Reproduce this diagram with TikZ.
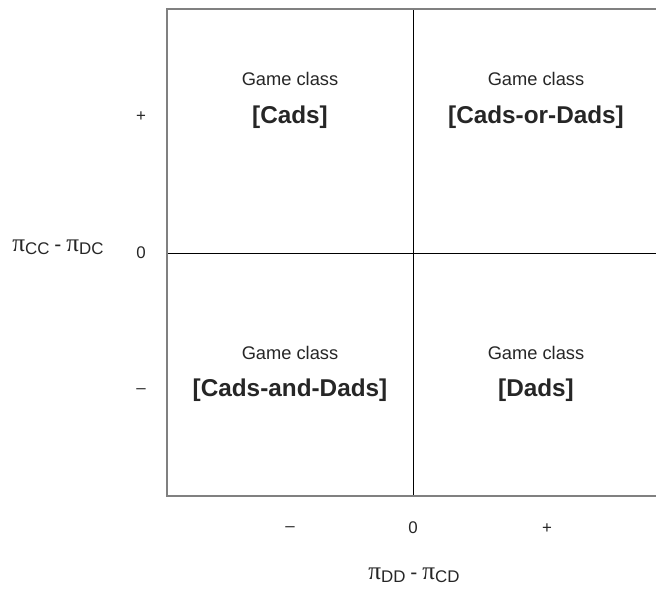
\documentclass[tikz,border=0pt]{standalone}
\usepackage{fontspec}
\setmainfont{Liberation Sans}
\newfontfamily\pifont{Liberation Serif}
\usetikzlibrary{positioning}
\newcommand{\payoff}[1]{{\pifont\fontsize{18}{18}\selectfont π}\raisebox{-0.45ex}{\fontsize{12}{12}\selectfont #1}}
\newcommand{\payminus}{\hspace{0.35em}{\fontsize{15}{15}\selectfont -}\hspace{0.35em}}

\begin{document}
\begin{tikzpicture}[x=0.025cm,y=-0.025cm,
  ticklab/.style={font=\fontsize{12}{12}\selectfont, inner sep=0pt, text=black!85},
  classlab/.style={font=\fontsize{13}{13}\selectfont, inner sep=0pt, text=black!85},
  classname/.style={font=\fontsize{17.3}{17.3}\selectfont\bfseries, inner sep=0pt, text=black!85},
  axislab/.style={inner sep=0pt, text=black!85}]
  \useasboundingbox (0,0) rectangle (656,593);
  \clip (0,0) rectangle (656,593);
  % 枠と区切り線
  \coordinate (nw) at (167,9);
  \coordinate (se) at (659,496);
  \coordinate (mid) at (413,253);
  \draw[black, line width=0.6pt] (nw -| mid) -- (se -| mid); % 縦
  \draw[black, line width=0.6pt] (nw |- mid) -- (se |- mid); % 横
  \draw[gray, line width=1pt] (nw) rectangle (se); % 外枠
  % ゲームのクラス
  \node[classlab] (g1) at (290,79) {Game class};
  \node[classname] (c1) at (290,117) {[Cads]};
  \node[classlab] (g2) at (536,79) {Game class};
  \node[classname] (c2) at (536,117) {[Cads-or-Dads]};
  \node[classlab] (g3) at (290,353) {Game class};
  \node[classname] (c3) at (290,390) {[Cads-and-Dads]};
  \node[classlab] (g4) at (536,353) {Game class};
  \node[classname] (c4) at (536,390) {[Dads]};
  % 目盛り
  \node[ticklab] (yp) at (141,117) {+};
  \node[ticklab] (y0) at (141,253) {0};
  \node[ticklab] (ym) at (141,391) {–};
  \node[ticklab] (xm) at (290,529) {–};
  \node[ticklab] (x0) at (413,528) {0};
  \node[ticklab] (xp) at (547,529) {+};
  % 軸ラベル
  \node[axislab] (ylab) at (58,247) {\payoff{CC}\payminus\payoff{DC}};
  \node[axislab] (xlab) at (414,575) {\payoff{DD}\payminus\payoff{CD}};
\end{tikzpicture}
\end{document}
